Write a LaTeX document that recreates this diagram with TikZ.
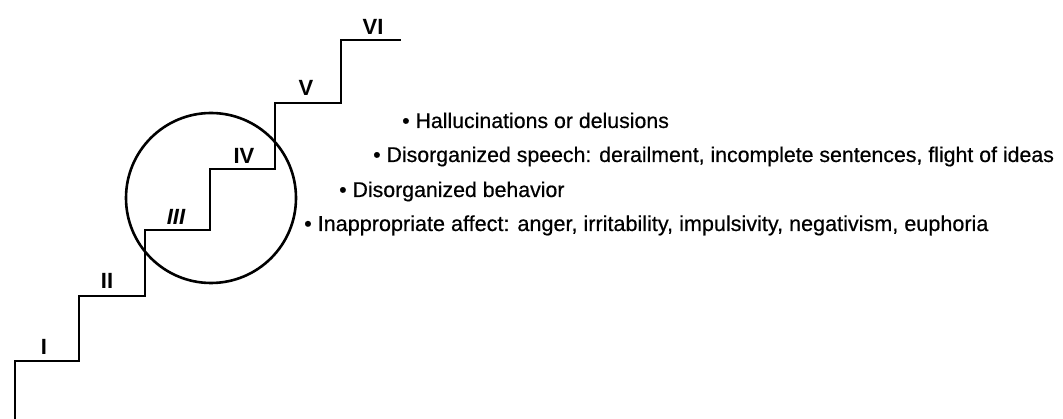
\documentclass[tikz,border=0pt]{standalone}
\usepackage{fontspec}
\setmainfont{Liberation Sans}
\newfontfamily\heavyfont{Liberation Sans}[FakeBold=0.5]
\begin{document}
\begin{tikzpicture}[x=1pt,y=-1pt,
  stair/.style={line width=2pt, line join=miter},
  ring/.style={line width=2.6pt},
  steplabel/.style={font=\fontsize{22}{22}\selectfont\bfseries, inner sep=0pt, anchor=center},
  item/.style={font=\heavyfont\fontsize{21.3}{21.3}\selectfont, inner sep=0pt, anchor=base west}]
\useasboundingbox (0,0) rectangle (1063,419);
\coordinate (s0) at (15,419);
\coordinate (s1) at (15,361);
\coordinate (s2) at (79,361);
\coordinate (s3) at (79,296);
\coordinate (s4) at (145,296);
\coordinate (s5) at (145,230);
\coordinate (s6) at (210,230);
\coordinate (s7) at (210,169);
\coordinate (s8) at (275,169);
\coordinate (s9) at (275,103);
\coordinate (s10) at (341,103);
\coordinate (s11) at (341,40);
\coordinate (s12) at (401,40);
\draw[stair] (s0) -- (s1) -- (s2) -- (s3) -- (s4) -- (s5) -- (s6) -- (s7) -- (s8) -- (s9) -- (s10) -- (s11) -- (s12);
\node[draw, ring, circle, minimum size=170pt, inner sep=0pt] (c) at (211,198) {};
\node[steplabel] (l1) at (44,347) {I};
\node[steplabel] (l2) at (107,281) {II};
\node[steplabel] (l3) at (176,217) {\itshape III};
\node[steplabel] (l4) at (244,156) {IV};
\node[steplabel] (l5) at (306,88) {V};
\node[steplabel] (l6) at (373,27) {VI};
\node[item] (t1) at (402,128) {• Hallucinations or delusions};
\node[item] (t2) at (373,162) {• Disorganized speech: derailment, incomplete sentences, flight of ideas};
\node[item] (t3) at (339,197) {• Disorganized behavior};
\node[item, font=\heavyfont\fontsize{21.6}{21.6}\selectfont] (t4) at (304,231) {• Inappropriate affect: anger, irritability, impulsivity, negativism, euphoria};
\end{tikzpicture}
\end{document}
